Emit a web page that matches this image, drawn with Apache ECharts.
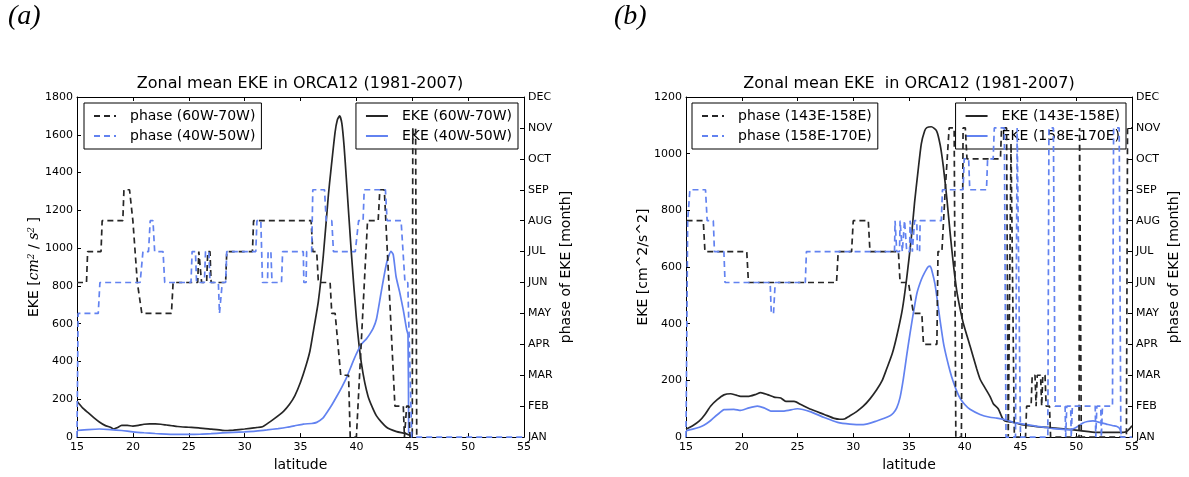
<!DOCTYPE html>
<html><head><meta charset="utf-8">
<script src="https://cdn.jsdelivr.net/npm/echarts@6/dist/echarts.min.js"></script>
<style>html,body{margin:0;padding:0;background:#fff}#c{width:1189px;height:477px}</style>
</head><body><div id="c"></div>
<script>
const MONTHS = ['JAN','FEB','MAR','APR','MAY','JUN','JUL','AUG','SEP','OCT','NOV','DEC'];
const TITLE_A = 'Zonal mean EKE in ORCA12 (1981-2007)';
const TITLE_B = 'Zonal mean EKE  in ORCA12 (1981-2007)';

// Panel (a): phase (month index, JAN=0) vs latitude
const phaseA_60W70W = [[15.0,5],[15.85,5],[15.95,6],[17.15,6],[17.25,7],[19.1,7],[19.2,8],[19.7,8],[20.0,7],[20.4,5],[20.8,4],[23.45,4],[23.6,5],[25.8,5],[25.9,6],[26.05,6],[26.15,5],[26.6,5],[26.7,6],[26.9,6],[27.0,5],[28.3,5],[28.4,6],[30.7,6],[30.8,7],[35.95,7],[36.1,6],[36.45,6],[36.6,5],[37.65,5],[37.8,4],[38.1,4],[38.6,2],[39.3,2],[39.45,0],[40.0,0],[41.0,7],[41.95,7],[42.1,8],[42.5,8],[43.45,1],[44.2,1],[44.3,0],[44.45,0],[44.5,1],[44.7,1],[44.8,0],[45.0,0],[45.05,10],[45.3,10],[45.4,0],[45.5,0]];
const phaseA_40W50W = [[15.0,0],[15.1,4],[16.9,4],[17.05,5],[20.65,5],[20.9,6],[21.4,6],[21.55,7],[21.8,7],[21.95,6],[22.7,6],[22.85,5],[25.2,5],[25.3,6],[25.6,6],[25.7,5],[26.4,5],[26.5,6],[26.8,6],[26.9,5],[27.65,5],[27.75,4],[27.9,4],[28.0,5],[28.3,5],[28.4,6],[31.0,6],[31.1,7],[31.45,7],[31.6,5],[32.05,5],[32.1,6],[32.35,6],[32.45,5],[33.3,5],[33.4,6],[35.25,6],[35.3,5],[35.5,5],[35.55,6],[36.0,6],[36.1,8],[37.15,8],[37.3,7],[37.8,7],[37.95,6],[39.9,6],[40.2,7],[40.6,7],[40.7,8],[42.6,8],[42.75,7],[44.0,7],[44.35,5],[44.6,5],[44.95,0],[55,0]];
// Panel (a): EKE [cm^2/s^2] vs latitude
const ekeA_60W70W = [[15,190],[15.5,155],[16,129],[16.5,103],[17,80],[17.5,62],[18,52],[18.3,43],[18.6,50],[19,62],[19.5,62],[20,58],[20.5,62],[21,68],[21.5,70],[22,70],[22.5,68],[23,64],[23.5,60],[24,56],[25,52],[26,48],[27,42],[28,36],[28.5,35],[29,37],[30,43],[31,50],[31.6,55],[32,70],[32.6,95],[33.5,138],[34,172],[34.5,220],[35,290],[35.5,380],[35.85,457],[36.15,560],[36.6,720],[37.04,960],[37.5,1284],[37.7,1400],[38.09,1612],[38.3,1680],[38.5,1700],[38.7,1660],[38.9,1540],[39.1,1370],[39.55,975],[40,630],[40.45,390],[41.05,215],[41.8,112],[42.7,52],[43.6,29],[44.35,20],[45,5]];
const ekeA_40W50W = [[15,35],[16,40],[17,43],[18,40],[19,35],[20,28],[21,23],[22,19],[23,16],[24,14],[25,14],[26,15],[27,18],[28,22],[29,25],[30,28],[31,32],[32,38],[33,45],[33.8,52],[34.5,60],[35.25,69],[36,72],[36.45,78],[37,100],[37.35,129],[37.8,170],[38.25,216],[38.7,265],[39.15,319],[39.6,385],[40,440],[40.45,491],[40.9,520],[41.2,545],[41.5,575],[41.8,625],[42.2,760],[42.7,920],[43.1,983],[43.3,965],[43.55,850],[43.9,760],[44.2,672],[44.5,569],[44.62,543],[44.68,20]];

// Panel (b)
const phaseB_143E158E = [[15.05,7],[16.55,7],[16.7,6],[20.45,6],[20.6,5],[28.5,5],[28.65,6],[29.85,6],[30.0,7],[31.35,7],[31.5,6],[34.05,6],[34.2,5],[34.95,5],[35.4,4],[36.15,4],[36.3,3],[37.5,3],[37.6,6],[37.95,6],[38.25,8],[38.6,10],[39.05,10],[39.2,0],[39.7,0],[39.85,10],[40.05,10],[40.2,9],[43.2,9],[43.3,10],[43.75,10],[43.9,0],[44.0,0],[44.15,9.5],[44.3,9.5],[44.45,0],[45.45,0],[45.55,1],[45.95,1],[46.05,2],[46.3,2],[46.4,1],[46.5,2],[46.8,2],[46.9,1],[47.0,2],[47.2,2],[47.3,1],[47.6,1],[47.7,0],[50.25,0],[50.3,10],[50.4,10],[50.45,0],[54.5,0],[54.6,10],[55,10]];
const phaseB_158E170E = [[15.0,0],[15.15,7],[15.35,8],[16.75,8],[16.9,7],[17.45,7],[17.55,6],[18.4,6],[18.5,5],[22.55,5],[22.65,4],[22.85,4],[23.0,5],[25.7,5],[25.8,6],[33.7,6],[33.75,7],[33.85,7],[33.9,6],[34.15,6],[34.2,7],[34.35,7],[34.4,6],[34.55,6],[34.6,7],[34.75,7],[34.8,6],[35.05,6],[35.1,7],[35.25,7],[35.3,6],[35.45,6],[35.5,7],[35.7,7],[35.75,6],[35.95,6],[36.0,7],[37.9,7],[38.0,8],[39.85,8],[39.95,9],[40.35,9],[40.45,8],[41.95,8],[42.05,9],[42.55,9],[42.65,10],[43.55,10],[43.7,0],[44.55,0],[44.7,10],[44.85,10],[45.0,0],[47.45,0],[47.55,10],[47.95,10],[48.1,1],[49.0,1],[49.05,0],[49.15,1],[49.5,1],[49.55,0],[49.65,1],[51.7,1],[51.75,0],[51.85,1],[52.2,1],[52.25,0],[52.35,1],[53.25,1],[53.35,10],[53.85,10],[54.0,0],[55,0]];
const ekeB_143E158E = [[15,28],[15.6,40],[16.2,57],[16.7,80],[17.2,109],[17.8,132],[18.4,149],[19.0,153],[19.5,148],[19.9,144],[20.65,144],[21.2,150],[21.7,157],[22.3,150],[22.9,141],[23.5,138],[23.95,126],[24.7,126],[25.3,115],[26.2,98],[27.4,80],[28.3,66],[28.8,63],[29.2,64],[29.7,75],[30.3,90],[30.9,109],[31.5,135],[32.1,167],[32.6,200],[33.0,241],[33.5,295],[33.9,356],[34.4,450],[34.8,563],[35.2,700],[35.5,828],[35.8,935],[36.1,1034],[36.4,1080],[36.6,1092],[37.0,1095],[37.48,1080],[37.8,1030],[38.08,954],[38.4,840],[38.68,724],[38.98,610],[39.28,517],[39.57,455],[39.87,402],[40.47,322],[41.07,241],[41.37,205],[41.66,184],[42.26,144],[42.56,118],[43.0,100],[43.4,65],[43.6,57],[44.35,52],[45.0,45],[45.85,40],[46.5,37],[47.35,34],[48.84,29],[50.34,23],[51.83,17],[53.3,17],[54.2,17],[54.6,22],[55,40]];
const ekeB_158E170E = [[15,22],[15.6,28],[16.2,35],[16.6,42],[17.1,55],[17.5,69],[18.0,85],[18.4,97],[19.3,98],[19.9,94],[20.65,103],[21.4,109],[22.0,103],[22.6,92],[23.8,92],[25.0,100],[26.2,89],[27.4,69],[28.6,52],[29.7,46],[30.9,44],[32.1,57],[33.3,75],[33.6,85],[33.9,103],[34.2,140],[34.5,207],[34.8,290],[35.1,368],[35.4,440],[35.7,506],[36.1,555],[36.4,580],[36.7,600],[36.9,603],[37.1,580],[37.33,540],[37.55,480],[37.78,414],[38.1,330],[38.4,276],[38.7,230],[38.97,195],[39.27,163],[39.57,138],[40.0,115],[40.47,98],[41.37,80],[42.26,70],[42.87,67],[43.76,60],[44.35,52],[45.85,42],[46.5,38],[47.35,34],[47.94,30],[48.5,28],[49.4,26],[49.9,32],[50.3,42],[50.6,50],[51.0,55],[51.5,57],[52.1,52],[52.7,46],[53.3,40],[53.6,38],[53.9,30],[54.05,10]];

const BLACK = '#262626', BLUE = '#6282f0';
const FONT = 'DejaVu Sans';
const chart = echarts.init(document.getElementById('c'), null, {renderer:'canvas'});

function xAx(grid, pos){
  return {type:'value', gridIndex:grid, position:pos, min:15, max:55, interval:5,
    axisLine:{show:true, onZero:false, lineStyle:{color:'#000', width:1}},
    axisTick:{show:true, inside:true, length:4, lineStyle:{color:'#000'}},
    axisLabel:{show:pos==='bottom', fontSize:11, fontFamily:FONT, color:'#000', margin:5, formatter:v=>String(v)},
    splitLine:{show:false},
    name: pos==='bottom' ? 'latitude' : '', nameLocation:'middle', nameGap:14,
    nameTextStyle:{fontSize:14, fontFamily:FONT, color:'#000'}};
}
function ekeAx(grid, max, name, rich){
  return {type:'value', gridIndex:grid, position:'left', min:0, max:max, interval:200,
    axisLine:{show:true, lineStyle:{color:'#000', width:1}},
    axisTick:{show:true, inside:true, length:4, lineStyle:{color:'#000'}},
    axisLabel:{fontSize:11, fontFamily:FONT, color:'#000', margin:4, formatter:v=>String(v)},
    splitLine:{show:false},
    name:name, nameLocation:'middle', nameGap:36, nameRotate:90,
    nameTextStyle:{fontSize:14, fontFamily:FONT, color:'#000', rich:rich}};
}
function monAx(grid){
  return {type:'value', gridIndex:grid, position:'right', min:0, max:11, interval:1,
    axisLine:{show:true, lineStyle:{color:'#000', width:1}},
    axisTick:{show:true, inside:true, length:4, lineStyle:{color:'#000'}},
    axisLabel:{fontSize:11, fontFamily:FONT, color:'#000', margin:4, formatter:v=>MONTHS[v]},
    splitLine:{show:false},
    name:'phase of EKE [month]', nameLocation:'middle', nameGap:35, nameRotate:90,
    nameTextStyle:{fontSize:14, fontFamily:FONT, color:'#000'}};
}
function ser(name, data, xi, yi, color, dashed){
  return {name:name, type:'line', data:data, xAxisIndex:xi, yAxisIndex:yi,
    symbol:'none', showSymbol:false, legendIcon:'none',
    smooth: dashed ? false : 0.2, clip:true, z: dashed ? 5 : 2, animation:false,
    lineStyle:{color:color, width:1.7, type: dashed ? [6,4] : 'solid'},
    itemStyle:{color:color}};
}
function leg(names, pos, z){
  return Object.assign({orient:'vertical', data:names, itemWidth:22, itemHeight:14, itemGap:6,
    padding:[6,6,6,9], borderColor:'#000', borderWidth:1, borderRadius:0, backgroundColor:'#fff',
    selectedMode:false, z:z,
    itemStyle:{opacity:0, borderWidth:0},
    textStyle:{fontSize:14, fontFamily:FONT, color:'#000', padding:[0,0,0,9]}}, pos);
}
const richA = {
  n:{fontSize:14, fontFamily:FONT, color:'#000'},
  i:{fontSize:14, fontFamily:'DejaVu Serif', fontStyle:'italic', color:'#000'},
  s:{fontSize:9, fontFamily:'DejaVu Serif', fontStyle:'italic', color:'#000', verticalAlign:'top'}
};

const option = {
  backgroundColor:'#fff',
  animation:false,
  textStyle:{fontFamily:FONT},
  title:[
    {text:TITLE_A, left:300, top:76, textAlign:'center', padding:0, textStyle:{fontSize:16, fontWeight:'normal', fontFamily:FONT, color:'#000'}},
    {text:TITLE_B, left:909, top:76, textAlign:'center', padding:0, textStyle:{fontSize:16, fontWeight:'normal', fontFamily:FONT, color:'#000'}}
  ],
  graphic:[
    {type:'text', left:8, top:3, style:{text:'(a)', font:'italic 28px "Liberation Serif"', fill:'#000'}},
    {type:'text', left:614, top:3, style:{text:'(b)', font:'italic 28px "Liberation Serif"', fill:'#000'}}
  ],
  grid:[
    {left:77, right:665, top:97, bottom:32},
    {left:686, right:57, top:97, bottom:32}
  ],
  xAxis:[xAx(0,'bottom'), xAx(0,'top'), xAx(1,'bottom'), xAx(1,'top')],
  yAxis:[
    ekeAx(0, 1800, '{n|EKE [}{i|cm}{s|2}{n| / }{i|s}{s|2}{n| ]}', richA),
    monAx(0),
    ekeAx(1, 1200, 'EKE [cm^2/s^2]', undefined),
    monAx(1)
  ],
  legend:[
    leg(['phase (60W-70W)','phase (40W-50W)'], {left:84, top:103}, 7),
    leg(['EKE (60W-70W)','EKE (40W-50W)'], {right:671, top:103}, 3),
    leg(['phase (143E-158E)','phase (158E-170E)'], {left:692, top:103}, 7),
    leg(['EKE (143E-158E)','EKE (158E-170E)'], {right:63, top:103}, 3)
  ],
  series:[
    ser('EKE (60W-70W)', ekeA_60W70W, 0, 0, BLACK, false),
    ser('EKE (40W-50W)', ekeA_40W50W, 0, 0, BLUE, false),
    ser('phase (60W-70W)', phaseA_60W70W, 0, 1, BLACK, true),
    ser('phase (40W-50W)', phaseA_40W50W, 0, 1, BLUE, true),
    ser('EKE (143E-158E)', ekeB_143E158E, 2, 2, BLACK, false),
    ser('EKE (158E-170E)', ekeB_158E170E, 2, 2, BLUE, false),
    ser('phase (143E-158E)', phaseB_143E158E, 2, 3, BLACK, true),
    ser('phase (158E-170E)', phaseB_158E170E, 2, 3, BLUE, true)
  ]
};
chart.setOption(option);
</script>
</body></html>
